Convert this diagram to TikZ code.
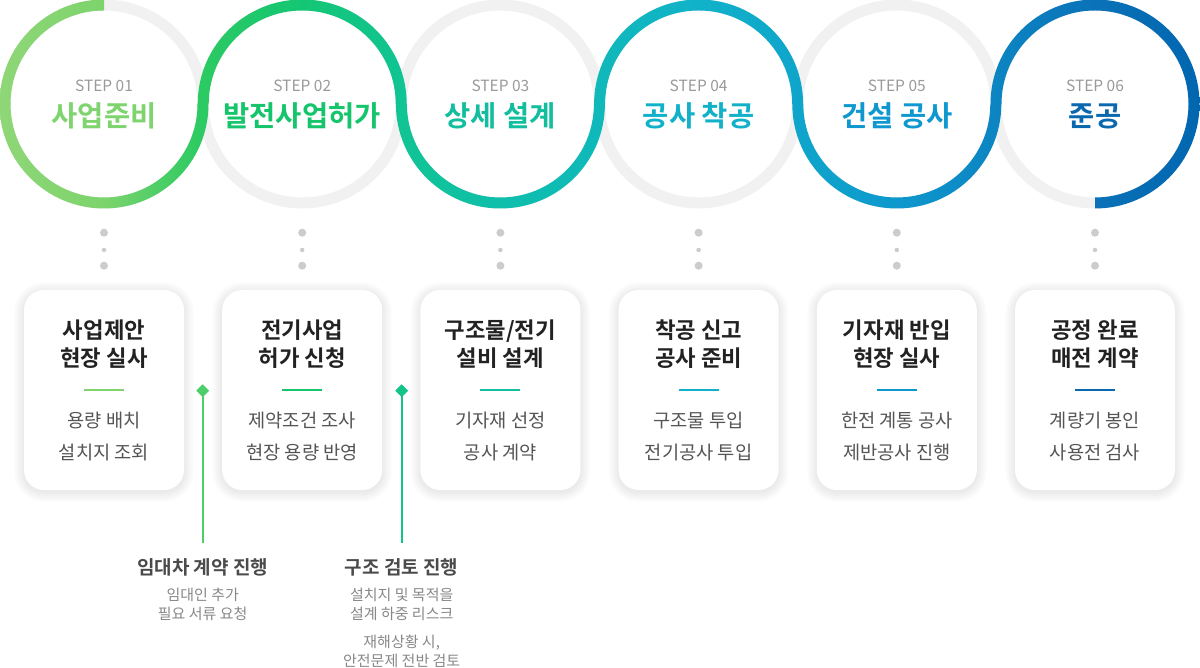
\documentclass[tikz,border=0pt]{standalone}
\usepackage{fontspec}
\setmainfont{Noto Sans CJK KR}[BoldFont={Noto Sans CJK KR Bold}]
\usetikzlibrary{shapes.geometric}
\definecolor{g0}{HTML}{8FD677}
\definecolor{g1}{HTML}{7CD46C}
\definecolor{g2}{HTML}{2CCA62}
\definecolor{g3}{HTML}{14C673}
\definecolor{g4}{HTML}{10C493}
\definecolor{g5}{HTML}{0FBFAB}
\definecolor{g6}{HTML}{10B2C9}
\definecolor{g7}{HTML}{0E98CD}
\definecolor{g8}{HTML}{0A72B8}
\definecolor{g9}{HTML}{0066B0}
\definecolor{s1}{HTML}{7FD46F}
\definecolor{s2}{HTML}{15C56B}
\definecolor{s3}{HTML}{13BE9F}
\definecolor{s4}{HTML}{10B1C9}
\definecolor{s5}{HTML}{0F98CF}
\definecolor{s6}{HTML}{0A69AE}
\definecolor{ringg}{HTML}{F1F1F1}
\definecolor{dotc}{HTML}{CCCCCC}
\definecolor{stepc}{HTML}{9A9A9A}
\definecolor{ctitle}{HTML}{222222}
\definecolor{csub}{HTML}{555555}
\definecolor{btitle}{HTML}{4A4A4A}
\definecolor{bsub}{HTML}{888888}
\definecolor{lineA}{HTML}{4CCF6A}
\definecolor{lineB}{HTML}{10C48A}
\pgfdeclarehorizontalshading{flow}{100bp}{color(0bp)=(g0); color(25bp)=(g0); color(29.35bp)=(g1); color(33.35bp)=(g2); color(37.6bp)=(g3); color(41.7bp)=(g4); color(45.85bp)=(g5); color(54.1bp)=(g6); color(62.35bp)=(g7); color(70.6bp)=(g8); color(75bp)=(g9); color(100bp)=(g9)}
\newcommand\fs[2]{\fontsize{#1}{#2}\selectfont}
\newcommand\procstep[9]{%
  \node[ringnode] (c#1) at (#2,564) {};
  \node[steplbl] (n#1) at (#2,582) {STEP #3};
  \node[steptitle,text=#5] (t#1) at (#2,552) {#4};
  \node[dotbig] (da#1) at (#2,435.3) {};
  \node[dotsmall] (db#1) at (#2,418) {};
  \node[dotbig] (dc#1) at (#2,402.3) {};
  \foreach \k in {1,...,10}{
    \fill[black,fill opacity=0.008,rounded corners=20pt+\k pt]
      (#2-80-\k,176-\k) rectangle (#2+80+\k,376+\k);
  }
  \node[card] (k#1) at (#2,278) {};
  \node[cardtitle] (kt#1) at (#2,324) {#6\\#7};
  \draw[line width=2pt,#5] ([xshift=-20pt]k#1.center) -- ([xshift=20pt]k#1.center);
  \node[cardsub] (ks#1) at (#2,231.5) {#8\\#9};
}
\begin{document}
\begin{tikzpicture}[x=1pt,y=1pt,
  ringnode/.style={circle,draw=ringg,line width=11pt,minimum size=198pt,inner sep=0},
  steplbl/.style={font=\fs{15.5}{18},text=stepc,inner sep=0},
  steptitle/.style={font=\fs{28.5}{32}\bfseries,inner sep=0},
  dotbig/.style={circle,fill=dotc,inner sep=0,minimum size=8pt},
  dotsmall/.style={circle,fill=dotc,inner sep=0,minimum size=4.5pt},
  card/.style={rounded corners=20pt,fill=white,minimum width=160pt,minimum height=200pt,inner sep=0},
  cardtitle/.style={font=\fs{22.3}{28}\bfseries,text=ctitle,align=center,inner sep=0},
  cardsub/.style={font=\fs{18.7}{32},text=csub,align=center,inner sep=0},
  diam/.style={diamond,inner sep=0,minimum size=13pt},
  btitlestyle/.style={font=\fs{19}{22}\bfseries,text=btitle,align=center,inner sep=0},
  bsubstyle/.style={font=\fs{15}{19},text=bsub,align=center,inner sep=0}]
\useasboundingbox (0,0) rectangle (1200,668);
\fill[white] (0,0) rectangle (1200,668);
\procstep{1}{104}{01}{사업준비}{s1}{사업제안}{현장 실사}{용량 배치}{설치지 조회}
\procstep{2}{302.2}{02}{발전사업허가}{s2}{전기사업}{허가 신청}{제약조건 조사}{현장 용량 반영}
\procstep{3}{500.4}{03}{상세 설계}{s3}{구조물/전기}{설비 설계}{기자재 선정}{공사 계약}
\procstep{4}{698.6}{04}{공사 착공}{s4}{착공 신고}{공사 준비}{구조물 투입}{전기공사 투입}
\procstep{5}{896.8}{05}{건설 공사}{s5}{기자재 반입}{현장 실사}{한전 계통 공사}{제반공사 진행}
\procstep{6}{1095}{06}{준공}{s6}{공정 완료}{매전 계약}{계량기 봉인}{사용전 검사}
% coloured flowing ring
\shade[shading=flow] foreach \c/\a/\b in {104/90/360, 302.2/180/0, 500.4/180/360, 698.6/180/0, 896.8/180/360, 1095/180/-90}
  { ([shift={(\c,564)}]\a:104.5) arc[start angle=\a,end angle=\b,radius=104.5pt]
    -- ([shift={(\c,564)}]\b:93.5) arc[start angle=\b,end angle=\a,radius=93.5pt] -- cycle };
% side notes
\coordinate (e1) at (202.7,125);
\coordinate (e2) at (401.7,125);
\node[diam] (dm1) at (202.7,277.3) {};
\node[diam] (dm2) at (401.7,277.3) {};
\draw[line width=2pt,lineA] (dm1.center) -- (e1);
\draw[line width=2pt,lineB] (dm2.center) -- (e2);
\node[diam,fill=lineA] at (dm1.center) {};
\node[diam,fill=lineB] at (dm2.center) {};
\node[btitlestyle] (b1) at (202.7,101) {임대차 계약 진행};
\node[bsubstyle] (b1s) at (202.7,64) {임대인 추가\\필요 서류 요청};
\node[btitlestyle] (b2) at (401.7,101) {구조 검토 진행};
\node[bsubstyle] (b2s) at (401.7,64) {설치지 및 목적을\\설계 하중 리스크};
\node[bsubstyle] (b2t) at (401.7,17) {재해상황 시,\\안전문제 전반 검토};
\end{tikzpicture}
\end{document}
